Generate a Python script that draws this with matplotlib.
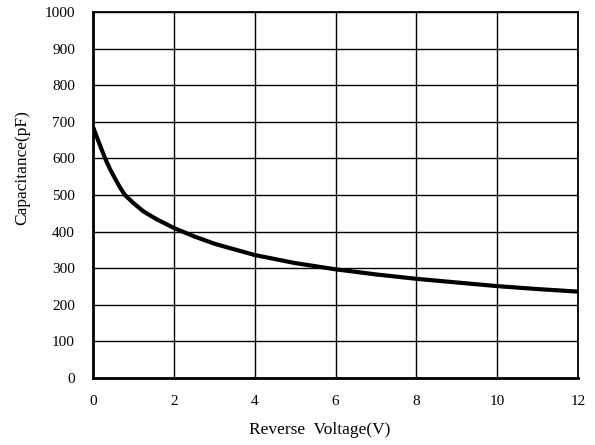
import matplotlib
matplotlib.use("Agg")
import matplotlib.pyplot as plt
import numpy as np

voltage = [0, 0.1, 0.2, 0.3, 0.42, 0.54, 0.66, 0.79, 1.0, 1.25, 1.57, 2.0, 2.5, 3.0, 4.0, 5.0, 6.0, 7.0, 8.0, 9.0, 10.0, 11.0, 12.0]
capacitance = [686, 657, 628, 600, 571, 546, 522, 500, 478, 455, 434, 410, 387, 367, 336, 314, 297, 283, 271, 261, 251, 243, 236]

x_ticks = [0, 2, 4, 6, 8, 10, 12]
y_ticks = [0, 100, 200, 300, 400, 500, 600, 700, 800, 900, 1000]

plt.rcParams['font.family'] = ['Liberation Serif', 'DejaVu Serif']

fig = plt.figure(figsize=(5.95, 4.45), dpi=100)
ax = fig.add_axes([93/595, 1-378/445, 485/595, 366/445])

ax.plot(voltage, capacitance, color='black', lw=3, solid_capstyle='butt',
        solid_joinstyle='round', zorder=3)

ax.set_xlim(0, 12)
ax.set_ylim(0, 1000)
ax.set_xticks(x_ticks)
ax.set_yticks(y_ticks)
ax.grid(True, color='black', lw=1)
ax.tick_params(length=0, labelsize=11, pad=12)
ax.tick_params(axis='y', pad=13)
for s in ax.spines.values():
    s.set_linewidth(1.3)
    s.set_color('black')
ax.spines['left'].set_linewidth(2)
ax.spines['bottom'].set_linewidth(2)

ax.set_xlabel('Reverse  Voltage(V)', fontsize=12.5)
ax.xaxis.set_label_coords((320-93)/485, (378-430)/366)
ax.xaxis.label.set_va('center')
ax.set_ylabel('Capacitance(pF)', fontsize=12.5)
ax.yaxis.set_label_coords((22-93)/485, (378-167.5)/366)
ax.yaxis.label.set_va('center')

fig.savefig('out.png', dpi=100)
